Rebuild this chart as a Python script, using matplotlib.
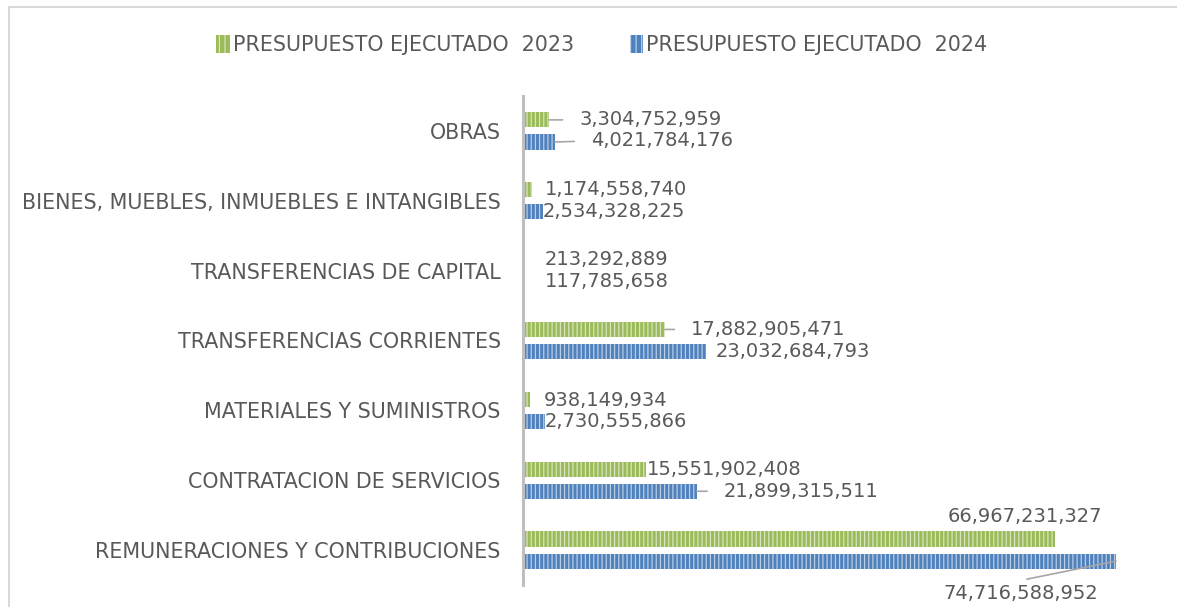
import matplotlib.pyplot as plt
from matplotlib.lines import Line2D
from matplotlib.patches import Patch

plt.rcParams['font.family'] = ['DejaVu Sans']
plt.rcParams['hatch.linewidth'] = 0.9

categories = ["OBRAS",
              "BIENES, MUEBLES, INMUEBLES E INTANGIBLES",
              "TRANSFERENCIAS DE CAPITAL",
              "TRANSFERENCIAS CORRIENTES",
              "MATERIALES Y SUMINISTROS",
              "CONTRATACION DE SERVICIOS",
              "REMUNERACIONES Y CONTRIBUCIONES"]
ejecutado_2023 = [3304752959, 1174558740, 213292889, 17882905471,
                  938149934, 15551902408, 66967231327]
ejecutado_2024 = [4021784176, 2534328225, 117785658, 23032684793,
                  2730555866, 21899315511, 74716588952]

# label offsets in pixels (text left edge / centre vs bar end / centre), y down
off_2023 = [(30, 0), (13, 0), (20, 0), (26, 0), (13, 1), (0, 0), (-107, -23)]
off_2024 = [(36, -1), (0, 0), (21, 0), (10, 0), (0, 0), (27, 0), (-173, 32)]
lead_2023 = [True, False, False, True, False, False, False]
lead_2024 = [True, False, False, False, False, True, True]

green, green_ln = "#9BBB59", "#D7E4BD"
blue, blue_ln = "#4F81BD", "#B9CDE5"
txt = "#595959"
fs = 14
fs_cat = 14.9

fig = plt.figure(figsize=(11.77, 6.07), dpi=100)
ax = fig.add_axes([523 / 1177, 1 - 585 / 607, 635 / 1177, 489 / 607])

n = len(categories)
ypos = [n - 1 - i for i in range(n)]
h = 0.216
sh = 0.158
ax.barh([y + sh for y in ypos], ejecutado_2023, height=h, color=green,
        edgecolor=green_ln, linewidth=0, hatch="||||")
ax.barh([y - sh for y in ypos], ejecutado_2024, height=h, color=blue,
        edgecolor=blue_ln, linewidth=0, hatch="||||")

px = 0.72  # points per pixel


def label(v, y, off, lead):
    dx, dy = off
    arrow = None
    if lead:
        if dy > 15:
            arrow = dict(arrowstyle="-", color="#A6A6A6", lw=1.2,
                         shrinkA=6, shrinkB=0, relpos=(0.4, 1.0))
        else:
            arrow = dict(arrowstyle="-", color="#A6A6A6", lw=1.2,
                         shrinkA=10, shrinkB=0, relpos=(0.0, 0.5))
    ax.annotate(f"{v:,}", xy=(v, y), xytext=(dx * px, -dy * px),
                textcoords="offset points", ha="left", va="center",
                fontsize=fs, color=txt, arrowprops=arrow)


for i, y in enumerate(ypos):
    label(ejecutado_2023[i], y + sh, off_2023[i], lead_2023[i])
    label(ejecutado_2024[i], y - sh, off_2024[i], lead_2024[i])

ax.set_xlim(0, 80e9)
ax.set_ylim(-0.5, n - 0.5)
ax.set_yticks(ypos)
ax.set_yticklabels(categories, fontsize=fs_cat, color=txt)
ax.tick_params(axis="y", length=0, pad=16)
ax.set_xticks([])
for s in ["top", "right", "bottom"]:
    ax.spines[s].set_visible(False)
ax.spines["left"].set_color("#BFBFBF")
ax.spines["left"].set_linewidth(2.2)

handles = [Patch(facecolor=green, edgecolor=green_ln, linewidth=0, hatch="|||"),
           Patch(facecolor=blue, edgecolor=blue_ln, linewidth=0, hatch="|||")]
fig.legend(handles, ["PRESUPUESTO EJECUTADO  2023", "PRESUPUESTO EJECUTADO  2024"],
           loc="center", bbox_to_anchor=(602 / 1177, 1 - 45 / 607), ncol=2,
           frameon=False, fontsize=fs_cat, labelcolor=txt, handlelength=0.65,
           handleheight=1.0, handletextpad=0.15, columnspacing=2.7)

fig.add_artist(Line2D([9 / 1177, 9 / 1177, 1176 / 1177],
                      [0, 1 - 7 / 607, 1 - 7 / 607],
                      transform=fig.transFigure, color="#D9D9D9", lw=1.5))

fig.savefig("out.png", dpi=100)
